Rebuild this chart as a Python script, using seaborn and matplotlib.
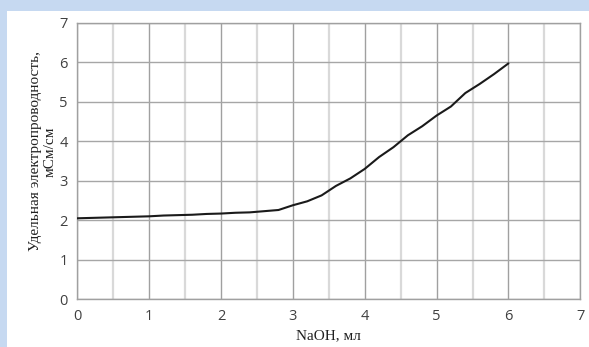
import matplotlib
matplotlib.use("Agg")
import matplotlib.pyplot as plt
import seaborn as sns
import pandas as pd
from matplotlib.patches import Rectangle
from matplotlib.ticker import MultipleLocator

naoh_ml = [0.0, 0.2, 0.4, 0.6, 0.8, 1.0, 1.2, 1.4, 1.6, 1.8, 2.0, 2.2, 2.4, 2.6, 2.8,
           3.0, 3.2, 3.4, 3.6, 3.8, 4.0, 4.2, 4.4, 4.6, 4.8, 5.0, 5.2, 5.4, 5.6, 5.8, 6.0]
conductivity = [2.05, 2.06, 2.07, 2.08, 2.09, 2.10, 2.12, 2.13, 2.14, 2.16, 2.17, 2.19, 2.20, 2.23, 2.26,
                2.38, 2.48, 2.63, 2.87, 3.06, 3.30, 3.60, 3.85, 4.15, 4.38, 4.65, 4.88, 5.22, 5.45, 5.70, 5.97]
x_ticks = [0, 1, 2, 3, 4, 5, 6, 7]
y_ticks = [0, 1, 2, 3, 4, 5, 6, 7]
x_label = "NaOH, мл"
y_label = "Удельная электропроводность,\nмСм/см"

df = pd.DataFrame({"x": naoh_ml, "y": conductivity})

sns.set_style("white")
fig = plt.figure(figsize=(5.89, 3.47), dpi=100)
fig.patch.set_facecolor("#c6d9f1")
fig.patches.append(Rectangle((7 / 589, 0), 1, 1 - 11 / 347, transform=fig.transFigure,
                             facecolor="white", edgecolor="none", zorder=-10))

ax = fig.add_axes([77.3 / 589, (347 - 299.3) / 347, (580.3 - 77.3) / 589, (299.3 - 22.7) / 347])
ax.set_facecolor("white")

sns.lineplot(data=df, x="x", y="y", ax=ax, color="#1a1a1a", linewidth=1.5, zorder=5)

ax.set_xlim(0, 7)
ax.set_ylim(0, 7)
ax.set_xticks(x_ticks)
ax.set_yticks(y_ticks)
ax.xaxis.set_minor_locator(MultipleLocator(0.5))
ax.grid(which="minor", axis="x", color="#d9d9d9", linewidth=1.6)
ax.grid(which="major", axis="x", color="#a0a0a0", linewidth=1.0)
ax.grid(which="major", axis="y", color="#a6a6a6", linewidth=1.0)
ax.set_axisbelow(True)
for s in ax.spines.values():
    s.set_color("#a0a0a0")
    s.set_linewidth(1.0)

ax.tick_params(axis="both", which="major", direction="out", length=4, color="#a0a0a0",
               labelsize=10.5, labelcolor="#404040", pad=3)
ax.tick_params(axis="x", which="minor", length=0)
for lbl in ax.get_xticklabels() + ax.get_yticklabels():
    lbl.set_family("Open Sans")

ax.set_xlabel(x_label, family="Liberation Serif", fontsize=11, color="#202020", labelpad=4)
ax.set_ylabel(y_label, family="Liberation Serif", fontsize=11, color="#202020", labelpad=2,
              linespacing=1.15)
ax.yaxis.label.set_y(0.535)

fig.savefig("out.png", dpi=100, facecolor=fig.get_facecolor())
